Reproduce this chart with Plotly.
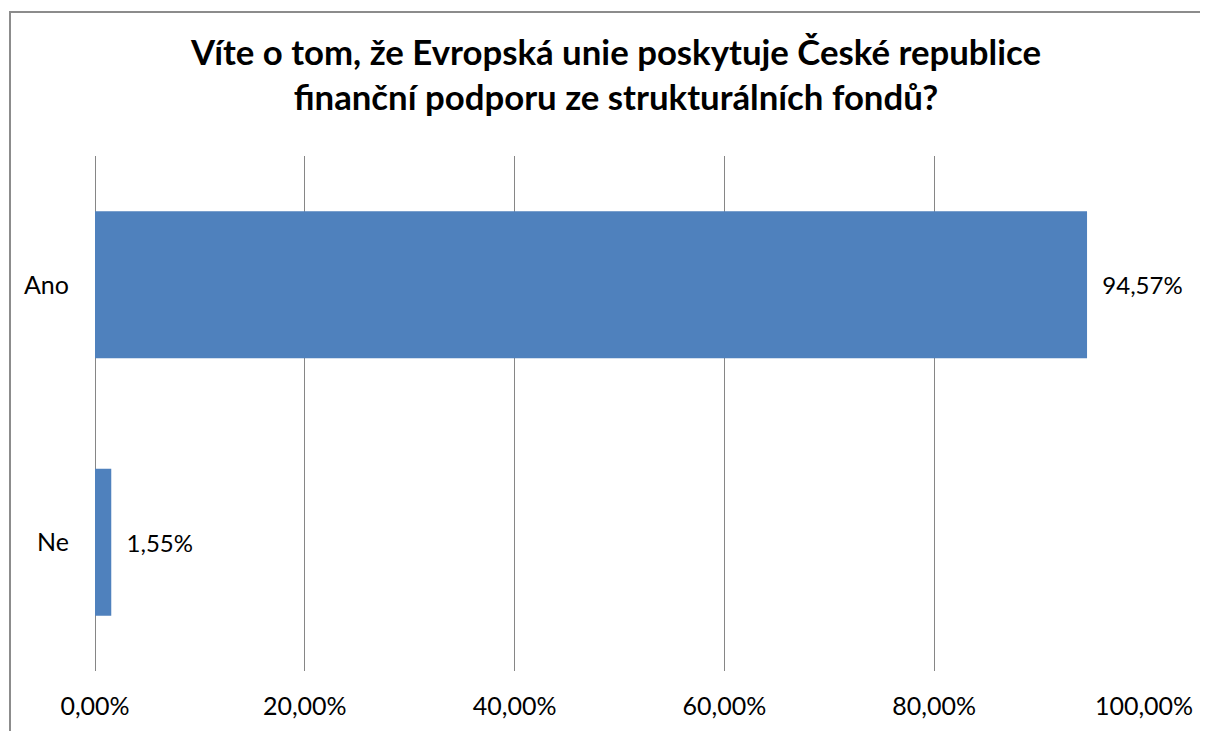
import plotly.graph_objects as go

categories = ["Ano", "Ne"]
values = [94.57, 1.55]
value_labels = ["94,57%", "1,55%"]
tick_vals = [0, 20, 40, 60, 80, 100]
tick_text = ["0,00%", "20,00%", "40,00%", "60,00%", "80,00%", "100,00%"]
title_text = "Víte o tom, že Evropská unie poskytuje České republice<br>finanční podporu ze strukturálních fondů?"

OFF = 8  # default body margin of the page
W, H = 1208 - OFF, 731 - OFF
L, R, T, B = 95 - OFF, 64, 156 - OFF, 60
pw, ph = W - L - R, H - T - B

FONT = "Lato"

fig = go.Figure(go.Bar(
    x=values, y=categories, orientation="h",
    marker=dict(color="#4f81bd", line=dict(width=0)),
    text=value_labels, texttemplate="\u00a0\u00a0%{text}",
    textposition="outside",
    textfont=dict(family=FONT, size=24, color="#000000"),
    constraintext="none", cliponaxis=False,
))

def px_x(page_x):
    return (page_x - OFF - L) / pw

def px_y(page_y):
    return (H - B - (page_y - OFF)) / ph

fig.update_layout(
    width=W, height=H,
    margin=dict(l=L, r=R, t=T, b=B, autoexpand=False),
    paper_bgcolor="white", plot_bgcolor="white",
    showlegend=False,
    bargap=0.43,
    title=dict(text=title_text, x=(616 - OFF) / W, xanchor="center",
               y=1 - 57 / H, yanchor="middle", yref="container",
               font=dict(family=FONT, size=34.75, color="#000000", weight="bold")),
    xaxis=dict(range=[0, 100], tickvals=tick_vals, ticktext=tick_text,
               automargin=False,
               showgrid=True, gridcolor="#868686", gridwidth=1,
               zeroline=True, zerolinecolor="#868686", zerolinewidth=1,
               showline=False, ticks="outside", ticklen=13, tickcolor="rgba(0,0,0,0)",
               tickfont=dict(family=FONT, size=25, color="#000000")),
    yaxis=dict(autorange="reversed", showgrid=False, showline=False,
               automargin=False,
               ticks="outside", ticklen=20, tickcolor="rgba(0,0,0,0)",
               tickfont=dict(family=FONT, size=25, color="#000000")),
    shapes=[
        dict(type="line", xref="paper", yref="paper", x0=px_x(10), x1=px_x(10),
             y0=px_y(11), y1=px_y(760), line=dict(color="#8c8c8c", width=2)),
        dict(type="line", xref="paper", yref="paper", x0=px_x(9), x1=px_x(1240),
             y0=px_y(12), y1=px_y(12), line=dict(color="#8c8c8c", width=2)),
    ],
)

fig.write_html("out.html")
